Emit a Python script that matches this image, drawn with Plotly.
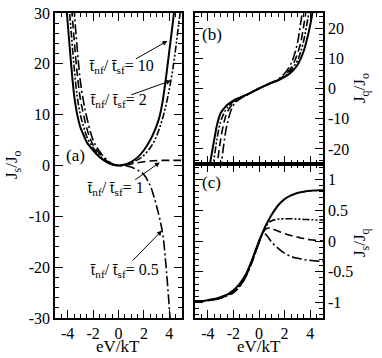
import plotly.graph_objects as go

# eV/kT grid shared by all curves
ev = [-5, -4.5, -4.25, -4, -3.75, -3.5, -3.25, -3, -2.75, -2.5, -2, -1.5, -1, -0.5,
      0, 0.25, 0.5, 0.75, 1, 1.5, 2, 2.5, 2.75, 3, 3.25, 3.5, 3.75, 4, 4.25, 4.5, 4.75, 5]

# panel (a): Js/Jo
js_10 = [75, 45, 36, 28, 20.5, 14, 10, 7.5, 6, 4.6, 3.0, 1.65, 0.75, 0.2,
         0, 0.05, 0.2, 0.4, 0.7, 1.6, 3.0, 5.0, 6.3, 7.8, 9.8, 13, 17.5, 22.5, 27.5, 33, 39, 46]
js_2 = [100, 55, 44, 35, 27, 19.5, 13.5, 10, 7.6, 5.7, 3.5, 2.0, 0.9, 0.25,
        0, 0.04, 0.15, 0.3, 0.5, 1.1, 2.0, 3.5, 4.5, 5.8, 7.5, 9.5, 12, 15, 18.5, 23, 28, 33]
js_1 = [130, 70, 55, 42, 33, 25, 18, 13, 10, 7.3, 4.0, 2.4, 1.05, 0.3,
        0, 0.03, 0.1, 0.2, 0.3, 0.55, 0.75, 0.9, 0.93, 0.95, 0.98, 1.0, 1.0, 1.0, 1.0, 1.0, 1.0, 1.0]
js_05 = [180, 90, 70, 55, 42, 31, 23, 16.5, 12.5, 9.5, 5.0, 2.8, 1.3, 0.35,
         0, 0.0, -0.05, -0.15, -0.3, -0.9, -1.8, -4.0, -5.8, -8.0, -10.5, -13.8, -20, -28, -37, -50, -65, -85]

# panel (b): Jq/Jo
jq_10 = [-80, -50, -38, -30, -23, -17, -11.5, -8.2, -6.7, -5.5, -4.0, -3.0, -2.1, -1.1,
         0, 0.5, 1.0, 1.45, 1.9, 2.7, 3.8, 5.3, 6.4, 7.8, 9.8, 12.5, 16.3, 21, 27, 35, 45, 60]
jq_2 = [-100, -65, -50, -40, -31, -23, -16, -11, -8.3, -6.5, -4.3, -3.1, -2.15, -1.1,
        0, 0.5, 1.0, 1.45, 1.9, 2.8, 4.0, 6.0, 7.4, 9.2, 12, 16, 21.5, 28, 36, 45, 56, 70]
jq_1 = [-130, -80, -63, -50, -40, -32, -24.5, -17, -11.5, -8, -4.8, -3.3, -2.2, -1.1,
        0, 0.5, 1.0, 1.47, 1.95, 2.9, 4.4, 6.8, 8.8, 11.5, 15, 21, 28, 37, 47, 60, 75, 95]
jq_05 = [-200, -120, -90, -70, -57, -45, -35, -27, -18.5, -12, -5.5, -3.5, -2.3, -1.1,
         0, 0.5, 1.0, 1.5, 2.0, 3.1, 5.0, 8.2, 11, 15, 21.5, 29, 39, 50, 65, 80, 100, 120]

# panel (c): Js/Jq
jsq_10 = [-0.98, -0.975, -0.97, -0.96, -0.95, -0.94, -0.93, -0.91, -0.89, -0.87, -0.80, -0.69, -0.53, -0.28,
          0.0, 0.12, 0.24, 0.34, 0.43, 0.58, 0.68, 0.74, 0.76, 0.78, 0.79, 0.80, 0.81, 0.815, 0.82, 0.82, 0.825, 0.825]
jsq_2 = [-0.98, -0.975, -0.97, -0.965, -0.955, -0.945, -0.935, -0.92, -0.90, -0.88, -0.82, -0.72, -0.55, -0.30,
         -0.01, 0.12, 0.22, 0.30, 0.33, 0.355, 0.36, 0.36, 0.36, 0.355, 0.355, 0.35, 0.35, 0.345, 0.345, 0.34, 0.34, 0.34]
jsq_1 = [-0.98, -0.975, -0.97, -0.965, -0.96, -0.95, -0.94, -0.925, -0.905, -0.885, -0.83, -0.73, -0.56, -0.31,
         -0.02, 0.11, 0.19, 0.21, 0.20, 0.16, 0.12, 0.09, 0.08, 0.065, 0.05, 0.04, 0.03, 0.02, 0.015, 0.01, 0.005, 0.0]
jsq_05 = [-0.98, -0.975, -0.97, -0.965, -0.96, -0.955, -0.945, -0.93, -0.91, -0.89, -0.84, -0.74, -0.57, -0.32,
          -0.03, 0.10, 0.11, 0.05, -0.02, -0.12, -0.20, -0.25, -0.27, -0.28, -0.29, -0.30, -0.31, -0.315, -0.32, -0.325, -0.33, -0.33]

ratio_labels = ["10", "2", "1", "0.5"]
x_ticks = [-4, -2, 0, 2, 4]
x_ticktext = ["-4", "-2", "0", "2", "4"]
ya_ticks = [-30, -20, -10, 0, 10, 20, 30]
ya_ticktext = ["-30", "-20", "-10", "0", "10", "20", "30"]
yb_ticks = [-20, -10, 0, 10, 20]
yb_ticktext = ["-20", "-10", "0", "10", "20"]
yc_ticks = [-1, -0.5, 0, 0.5, 1]
yc_ticktext = ["-1", "-0.5", "0", "0.5", "1"]

FONT = "Liberation Serif, Times New Roman, serif"
dashes = ["solid", "7px,2px,2px,2px,2px,2px", "8px,4px", "10px,3px,2px,3px"]
widths = [2, 1.6, 1.6, 1.6]

fig = go.Figure()
for ys, ax in [((js_10, js_2, js_1, js_05), ("x", "y")),
               ((jq_10, jq_2, jq_1, jq_05), ("x2", "y2")),
               ((jsq_10, jsq_2, jsq_1, jsq_05), ("x3", "y3"))]:
    for i, y in enumerate(ys):
        fig.add_trace(go.Scatter(x=ev, y=y, mode="lines", xaxis=ax[0], yaxis=ax[1],
                                 line=dict(color="black", width=widths[i], dash=dashes[i], shape="spline"),
                                 showlegend=False, hoverinfo="skip"))

W, H = 382, 358
def fx(px):
    return px / W
def fy(py):
    return 1 - py / H

common = dict(showline=True, linecolor="black", linewidth=1.5, mirror="allticks",
              ticks="inside", ticklen=8, tickwidth=1, tickcolor="black", showgrid=False,
              zeroline=False, automargin=False, tickfont=dict(family=FONT, size=16, color="black"))
xcommon = dict(common, range=[-5, 5], tickmode="array", tickvals=x_ticks, ticktext=x_ticktext,
               minor=dict(ticks="inside", ticklen=4, dtick=0.5, tick0=0, tickcolor="black", showgrid=False))

fig.update_layout(
    width=W, height=H, margin=dict(l=0, r=0, t=0, b=0),
    paper_bgcolor="white", plot_bgcolor="white", template="none",
    font=dict(family=FONT, size=16, color="black"),
    xaxis=dict(xcommon, domain=[fx(55), fx(182)], anchor="y"),
    yaxis=dict(common, domain=[fy(318), fy(13)], anchor="x", range=[-30, 30],
               tickmode="array", tickvals=ya_ticks, ticktext=ya_ticktext,
               minor=dict(ticks="inside", ticklen=4, dtick=2, tick0=0, tickcolor="black", showgrid=False)),
    xaxis2=dict(xcommon, domain=[fx(195), fx(323)], anchor="y2", showticklabels=False),
    yaxis2=dict(common, domain=[fy(164), fy(13)], anchor="x2", side="right", range=[-25, 25],
                tickmode="array", tickvals=yb_ticks, ticktext=yb_ticktext,
                minor=dict(ticks="inside", ticklen=4, dtick=2, tick0=0, tickcolor="black", showgrid=False)),
    xaxis3=dict(xcommon, domain=[fx(195), fx(323)], anchor="y3"),
    yaxis3=dict(common, domain=[fy(318), fy(164)], anchor="x3", side="right", range=[-1.25, 1.25],
                tickmode="array", tickvals=yc_ticks, ticktext=yc_ticktext,
                minor=dict(ticks="inside", ticklen=4, dtick=0.1, tick0=0, tickcolor="black", showgrid=False)),
)

# axis titles as paper annotations
titles = [("eV/kT", 118, 346, 0), ("eV/kT", 259, 346, 0),
          ("J<sub>s</sub>/J<sub>o</sub>", 13, 165, -90),
          ("J<sub>q</sub>/J<sub>o</sub>", 361, 88, -90),
          ("J<sub>s</sub>/J<sub>q</sub>", 361, 243, -90)]
for txt, px, py, ang in titles:
    fig.add_annotation(text=txt, xref="paper", yref="paper", x=fx(px), y=fy(py), showarrow=False,
                       textangle=ang, xanchor="center", yanchor="middle",
                       font=dict(family=FONT, size=17, color="black"))

# panel letters
for txt, xr, yr, px, py in [("(a)", "x", "y", -3.4, 2), ("(b)", "x2", "y2", -3.7, 18), ("(c)", "x3", "y3", -3.7, 0.95)]:
    fig.add_annotation(text=txt, xref=xr, yref=yr, x=px, y=py, showarrow=False,
                       font=dict(family=FONT, size=17, color="black"))

# ratio labels with arrows in panel (a)
label_pos = [(0.25, 19.5), (0.0, 12.8), (-0.2, -4.6), (0.45, -20.6)]
arrow_from = [(1.25, 20.8), (0.9, 13.8), (1.2, -3.0), (1.0, -19.0)]
arrow_to = [(3.85, 24.5), (4.13, 16.7), (3.25, 0.6), (3.42, -12.8)]
for lab, (lx, ly), (fx0, fy0), (tx, ty) in zip(ratio_labels, label_pos, arrow_from, arrow_to):
    fig.add_annotation(text="t\u0304<sub>nf</sub>/ t\u0304<sub>sf</sub>= " + lab, xref="x", yref="y",
                       x=lx, y=ly, showarrow=False, font=dict(family=FONT, size=16, color="black"))
    fig.add_annotation(text="", xref="x", yref="y", axref="x", ayref="y", x=tx, y=ty, ax=fx0, ay=fy0,
                       showarrow=True, arrowhead=2, arrowsize=1, arrowwidth=1, arrowcolor="black")

# drop the browser's default page margin so the figure sits at the window corner
fig.write_html("out.html", config={"displayModeBar": False},
               post_script="document.body.style.margin='0';")
